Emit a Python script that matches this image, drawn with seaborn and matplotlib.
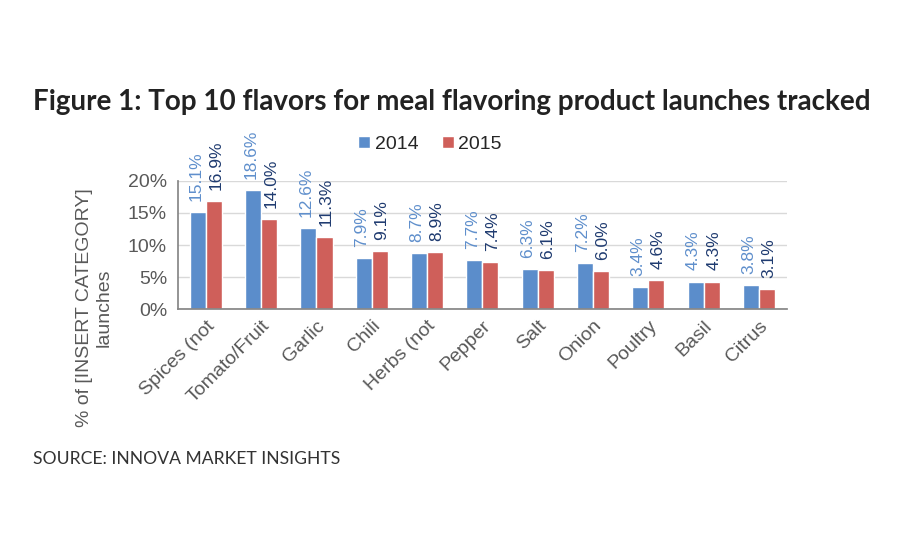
import pandas as pd
import seaborn as sns
import matplotlib.pyplot as plt
from matplotlib.ticker import FuncFormatter, FixedLocator

flavors = ['Spices (not', 'Tomato/Fruit', 'Garlic', 'Chili', 'Herbs (not',
           'Pepper', 'Salt', 'Onion', 'Poultry', 'Basil', 'Citrus']
share_2014 = [15.1, 18.6, 12.6, 7.9, 8.7, 7.7, 6.3, 7.2, 3.4, 4.3, 3.8]
share_2015 = [16.9, 14.0, 11.3, 9.1, 8.9, 7.4, 6.1, 6.0, 4.6, 4.3, 3.1]
years = ['2014', '2015']
yticks = [0, 5, 10, 15, 20]


def main() -> None:
    df = pd.DataFrame({
        'flavor': flavors * 2,
        'year': [years[0]] * len(flavors) + [years[1]] * len(flavors),
        'share': share_2014 + share_2015,
    })

    sns.set_theme(style='white')
    plt.rcParams['font.family'] = ['Liberation Sans', 'DejaVu Sans']

    fig = plt.figure(figsize=(9, 5.5), dpi=100)
    ax = fig.add_axes([0.198, 0.438, 0.676, 0.233])

    palette = {'2014': '#5B8DCB', '2015': '#CF5F5A'}
    sns.barplot(data=df, x='flavor', y='share', hue='year', palette=palette,
                width=0.58, saturation=1, ax=ax, legend=True)

    ax.set_ylim(0, 20)
    ax.set_xlim(-0.5, len(flavors) - 0.5)
    ax.yaxis.set_major_locator(FixedLocator(yticks))
    ax.yaxis.set_major_formatter(FuncFormatter(lambda v, p: f'{v:.0f}%'))
    ax.grid(axis='y', color='#d9d9d9', linewidth=1)
    ax.set_axisbelow(True)
    for side in ['top', 'right']:
        ax.spines[side].set_visible(False)
    ax.spines['left'].set_color('#868686')
    ax.spines['bottom'].set_color('#868686')

    # tick marks between categories, labels at centres
    ax.set_xticks([i + 0.5 for i in range(-1, len(flavors))], minor=True)
    ax.tick_params(axis='x', which='minor', length=5, color='#868686', width=1)
    ax.tick_params(axis='x', which='major', length=0, pad=6)
    ax.tick_params(axis='y', length=4, color='#868686', width=1, pad=4)
    ax.set_xticks(range(len(flavors)))
    ax.set_xticklabels(flavors, rotation=45, ha='right', rotation_mode='anchor',
                       fontsize=14, color='#595959')
    for lab in ax.get_yticklabels():
        lab.set_fontsize(14)
        lab.set_color('#595959')
    ax.set_xlabel('')
    ax.set_ylabel('')

    # value labels, nudged apart a little so neighbours don't collide
    label_colors = ['#5F8FCC', '#1F3B70']
    nudges = [-1.5, 1.5]
    for container, col, dx in zip(ax.containers, label_colors, nudges):
        for bar in container:
            h = bar.get_height()
            ax.annotate(f'{h:.1f}%', (bar.get_x() + bar.get_width() / 2, h),
                        xytext=(dx, 8), textcoords='offset points',
                        rotation=90, ha='center', va='bottom',
                        fontsize=12.5, color=col)

    # legend
    handles, labels = ax.get_legend_handles_labels()
    ax.get_legend().remove()
    fig.legend(handles, labels, loc='center', bbox_to_anchor=(0.478, 0.737), ncol=2,
               frameon=False, fontsize=14, handlelength=0.6, handleheight=0.6,
               handletextpad=0.25, columnspacing=1.2)

    fig.text(0.105, 0.44, '% of [INSERT CATEGORY]\nlaunches', rotation=90,
             ha='center', va='center', fontsize=14, color='#595959',
             multialignment='center')

    fig.text(0.037, 0.815, 'Figure 1: Top 10 flavors for meal flavoring product launches tracked',
             fontsize=20, fontweight='bold', color='#222222', family='Lato', va='center')
    fig.text(0.037, 0.165, 'SOURCE: INNOVA MARKET INSIGHTS', fontsize=12.6,
             color='#333333', family='Lato', va='center')

    fig.savefig('out.png', dpi=100, facecolor='white')


if __name__ == '__main__':
    main()
